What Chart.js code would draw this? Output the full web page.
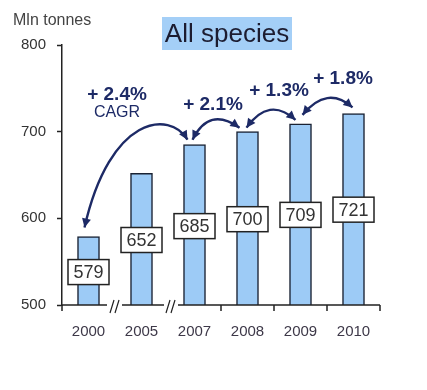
<!DOCTYPE html>
<html>
<head>
<meta charset="utf-8">
<script src="https://cdn.jsdelivr.net/npm/chart.js@4.4.1/dist/chart.umd.min.js"></script>
<style>
  html, body { margin: 0; padding: 0; background: #fff; }
  canvas { display: block; }
</style>
</head>
<body>
<canvas id="chart" width="427" height="390"></canvas>
<script>
// DATA
const years = ['2000', '2005', '2007', '2008', '2009', '2010'];
const tonnes = [579, 652, 685, 700, 709, 721];
const yTicks = [500, 600, 700, 800];
// where the boxed value labels sit, in axis units
const labelAt = [538, 575, 591, 599, 604, 610];
const growth = ['+ 2.4%', '+ 2.1%', '+ 1.3%', '+ 1.8%'];
const growthFrom = [0, 2, 3, 4];
const growthTo = [2, 3, 4, 5];

const FONT = '"Liberation Sans", Arial, sans-serif';
const NAVY = '#1d2a66';

// ARROWS AND LABELS
const arrowStyle = [
  { s: [-4, -9], e: [-7, -5], c1: [110, 115], c2: [170, 110], text: [117, 95] },
  { s: [-2, -5], e: [-8, -4], q: [209, 106], text: [213, 105] },
  { s: [-1, -4], e: [-5, -4], q: [269, 96], text: [279, 91] },
  { s: [2, -9], e: [-1, -6], q: [327, 85], text: [343, 79] }
];

function arrowHead(ctx, x, y, ang) {
  const len = 9, w = 4.5;
  ctx.save();
  ctx.translate(x, y);
  ctx.rotate(ang);
  ctx.beginPath();
  ctx.moveTo(0, 0);
  ctx.lineTo(-len, -w);
  ctx.lineTo(-len, w);
  ctx.closePath();
  ctx.fill();
  ctx.restore();
}

const decorPlugin = {
  id: 'decor',
  afterDraw(chart) {
    const ctx = chart.ctx;
    const xs = chart.scales.x, ys = chart.scales.y;
    const bars = chart.getDatasetMeta(0).data;
    const base = ys.getPixelForValue(500);

    ctx.save();
    // title
    ctx.fillStyle = '#a4cff7';
    ctx.fillRect(162, 17, 130, 33);
    ctx.fillStyle = '#1c1c30';
    ctx.font = '26px ' + FONT;
    ctx.textAlign = 'center';
    ctx.textBaseline = 'middle';
    ctx.fillText('All species', 227, 35);

    // unit
    ctx.fillStyle = '#444';
    ctx.font = '16px ' + FONT;
    ctx.textAlign = 'left';
    ctx.fillText('Mln tonnes', 13, 21);

    // x axis line with breaks
    ctx.strokeStyle = '#222';
    ctx.lineWidth = 1.5;
    const left = chart.chartArea.left, right = chart.chartArea.right;
    const b1 = xs.getPixelForValue(0.5), b2 = xs.getPixelForValue(1.5);
    ctx.beginPath();
    ctx.moveTo(left, base + 6); ctx.lineTo(left, base);
    ctx.moveTo(left, base); ctx.lineTo(b1 - 8, base);
    ctx.moveTo(b1 + 7, base); ctx.lineTo(b2 - 4, base);
    ctx.moveTo(b2 + 10, base); ctx.lineTo(right, base);
    for (let i = 2; i < years.length; i++) {
      const bx = xs.getPixelForValue(i + 0.5);
      ctx.moveTo(bx, base); ctx.lineTo(bx, base + 6);
    }
    ctx.stroke();
    // break marks
    ctx.lineWidth = 1.2;
    [b1, b2 + 3].forEach(bx => {
      ctx.beginPath();
      ctx.moveTo(bx - 5, base + 8); ctx.lineTo(bx - 1, base - 5);
      ctx.moveTo(bx, base + 8); ctx.lineTo(bx + 4, base - 5);
      ctx.stroke();
    });

    // value boxes
    ctx.font = '18px ' + FONT;
    ctx.textAlign = 'center';
    bars.forEach((bar, i) => {
      const cy = ys.getPixelForValue(labelAt[i]);
      ctx.fillStyle = '#fff';
      ctx.fillRect(bar.x - 20.5, cy - 12.5, 41, 25);
      ctx.strokeStyle = '#222';
      ctx.lineWidth = 1.5;
      ctx.strokeRect(bar.x - 20.5, cy - 12.5, 41, 25);
      ctx.fillStyle = '#333';
      ctx.fillText(String(tonnes[i]), bar.x, cy + 1);
    });

    // growth arrows
    ctx.strokeStyle = NAVY;
    ctx.fillStyle = NAVY;
    ctx.lineWidth = 2.4;
    growth.forEach((g, k) => {
      const st = arrowStyle[k];
      const a = bars[growthFrom[k]], b = bars[growthTo[k]];
      const sx = a.x + st.s[0], sy = a.y + st.s[1];
      const ex = b.x + st.e[0], ey = b.y + st.e[1];
      ctx.beginPath();
      ctx.moveTo(sx, sy);
      let a0, a1;
      if (st.c1) {
        ctx.bezierCurveTo(st.c1[0], st.c1[1], st.c2[0], st.c2[1], ex, ey);
        a0 = Math.atan2(sy - st.c1[1], sx - st.c1[0]);
        a1 = Math.atan2(ey - st.c2[1], ex - st.c2[0]);
      } else {
        ctx.quadraticCurveTo(st.q[0], st.q[1], ex, ey);
        a0 = Math.atan2(sy - st.q[1], sx - st.q[0]);
        a1 = Math.atan2(ey - st.q[1], ex - st.q[0]);
      }
      ctx.stroke();
      arrowHead(ctx, sx, sy, a0);
      arrowHead(ctx, ex, ey, a1);

      ctx.font = 'bold 19px ' + FONT;
      ctx.textAlign = 'center';
      ctx.fillText(g, st.text[0], st.text[1]);
    });
    ctx.font = '16px ' + FONT;
    ctx.fillText('CAGR', 117, 113);
    ctx.restore();
  }
};

new Chart(document.getElementById('chart'), {
  type: 'bar',
  data: {
    labels: years,
    datasets: [{
      data: tonnes,
      backgroundColor: '#9dcbf6',
      borderColor: '#1a2233',
      borderWidth: 1.5,
      borderSkipped: 'bottom',
      barThickness: 22
    }]
  },
  options: {
    responsive: false,
    animation: false,
    devicePixelRatio: 1,
    layout: { padding: { top: 45, right: 47, left: 0, bottom: 0 } },
    plugins: {
      legend: { display: false },
      tooltip: { enabled: false }
    },
    scales: {
      x: {
        grid: { display: false, drawTicks: false },
        border: { display: false },
        ticks: { color: '#3d3848', font: { family: FONT, size: 15 }, padding: 18 },
        afterFit: s => { s.height = 85; }
      },
      y: {
        min: 500,
        max: 800,
        afterBuildTicks: s => { s.ticks = yTicks.map(v => ({ value: v })); },
        grid: { drawOnChartArea: false, tickLength: 5, tickColor: '#222', tickWidth: 1.5 },
        border: { color: '#222', width: 1.5 },
        ticks: { color: '#333', font: { family: FONT, size: 15 }, padding: 11 },
        afterFit: s => { s.width = 62; }
      }
    }
  },
  plugins: [decorPlugin]
});
</script>
</body>
</html>
